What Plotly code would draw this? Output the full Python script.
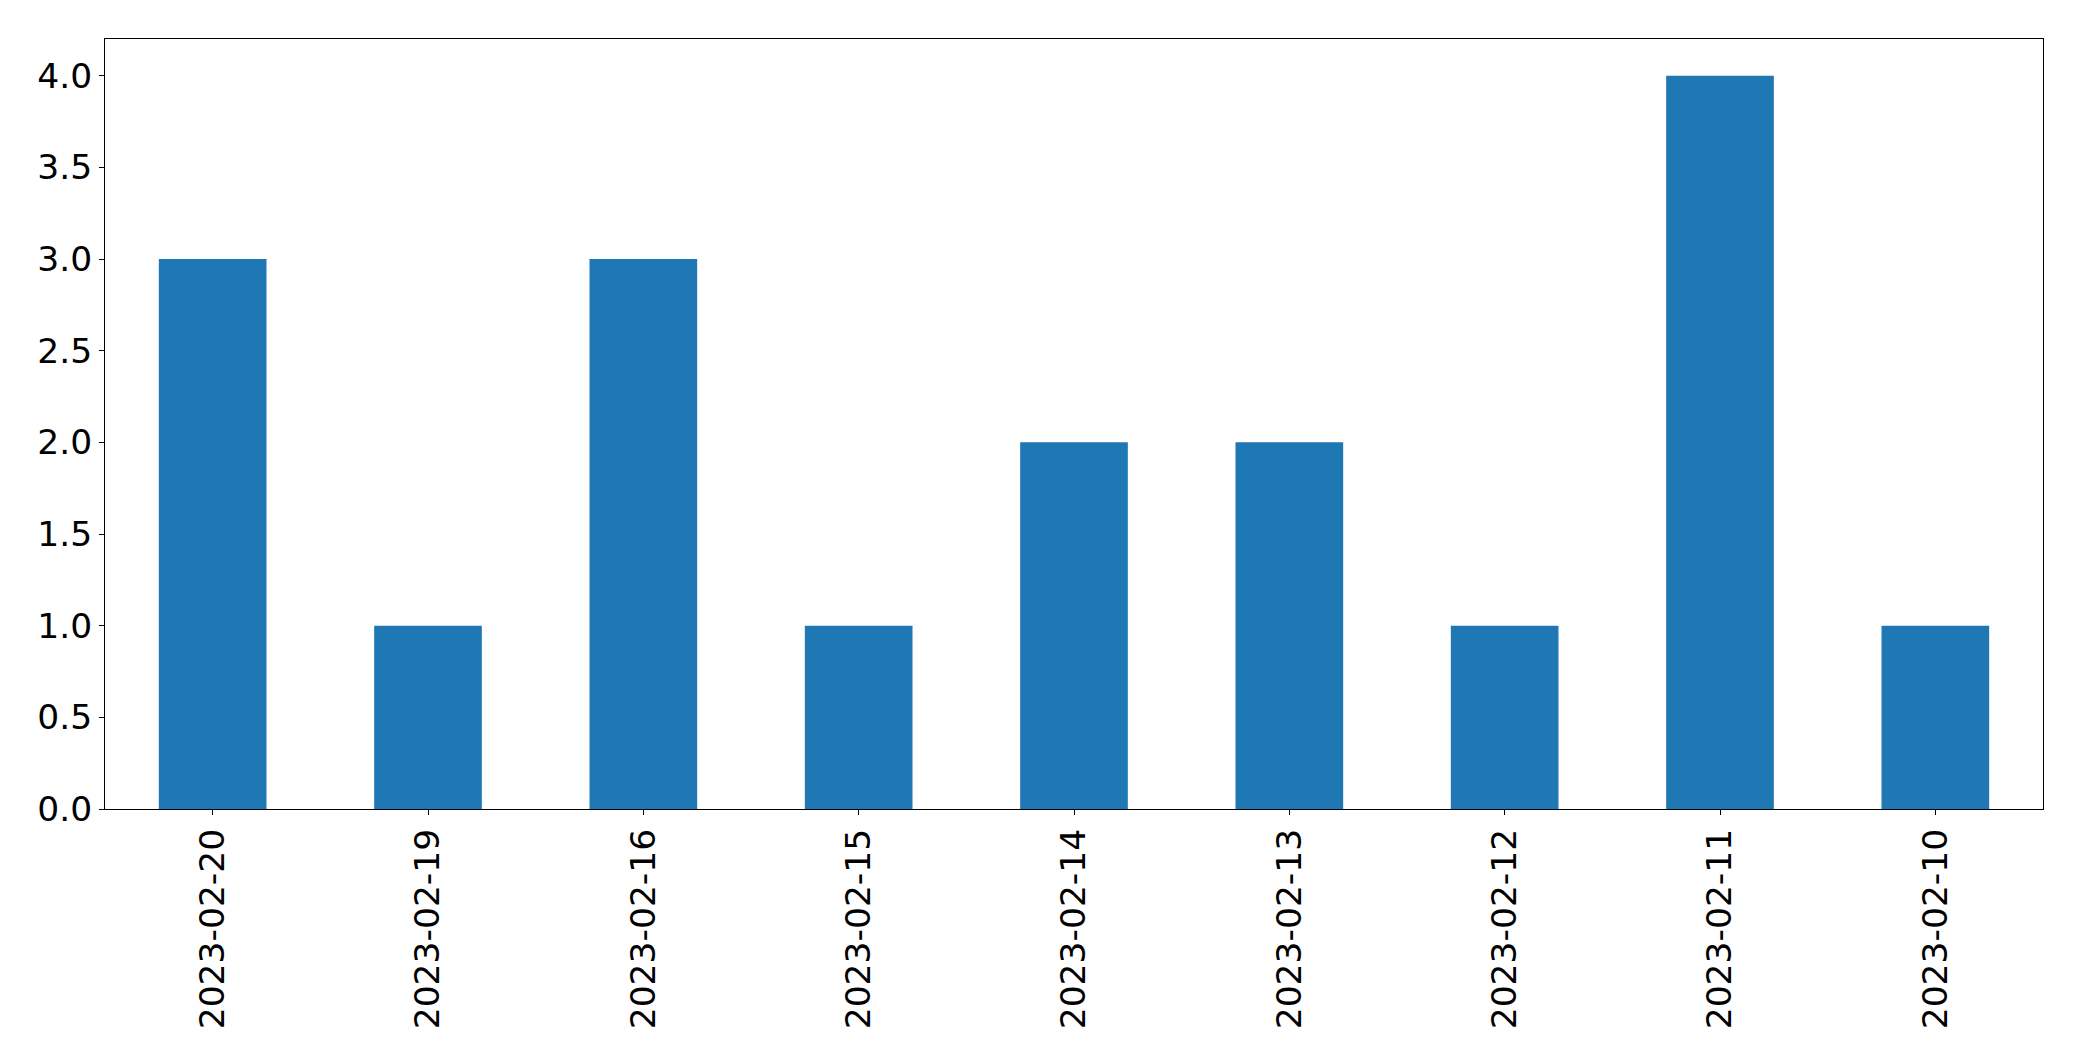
import plotly.graph_objects as go

dates = ["2023-02-20", "2023-02-19", "2023-02-16", "2023-02-15", "2023-02-14",
         "2023-02-13", "2023-02-12", "2023-02-11", "2023-02-10"]
counts = [3, 1, 3, 1, 2, 2, 1, 4, 1]
y_ticks = [0.0, 0.5, 1.0, 1.5, 2.0, 2.5, 3.0, 3.5, 4.0]
y_tick_labels = ["0.0", "0.5", "1.0", "1.5", "2.0", "2.5", "3.0", "3.5", "4.0"]

fig = go.Figure(go.Bar(x=dates, y=counts, marker=dict(color="#1f77b4", line=dict(width=0))))

# page body has an 8px default margin, so the figure is shrunk by that amount
fig.update_layout(
    width=2074, height=1053,
    margin=dict(l=97, r=39, t=31, b=252),
    paper_bgcolor="white", plot_bgcolor="white",
    bargap=0.5,
    showlegend=False,
    font=dict(family="DejaVu Sans", size=34.5, color="black"),
)
fig.update_xaxes(
    type="category", range=[-0.5, len(dates) - 0.5],
    tickangle=-90, ticks="outside", ticklen=5, tickwidth=1, tickcolor="black",
    showline=True, linecolor="black", linewidth=1, mirror=True,
    showgrid=False, zeroline=False, automargin=False,
)
fig.update_yaxes(
    range=[0, 4.2], tickvals=y_ticks, ticktext=y_tick_labels,
    ticks="outside", ticklen=5, tickwidth=1, tickcolor="black",
    showline=True, linecolor="black", linewidth=1, mirror=True,
    showgrid=False, zeroline=False, automargin=False,
)

fig.write_html("out.html")
